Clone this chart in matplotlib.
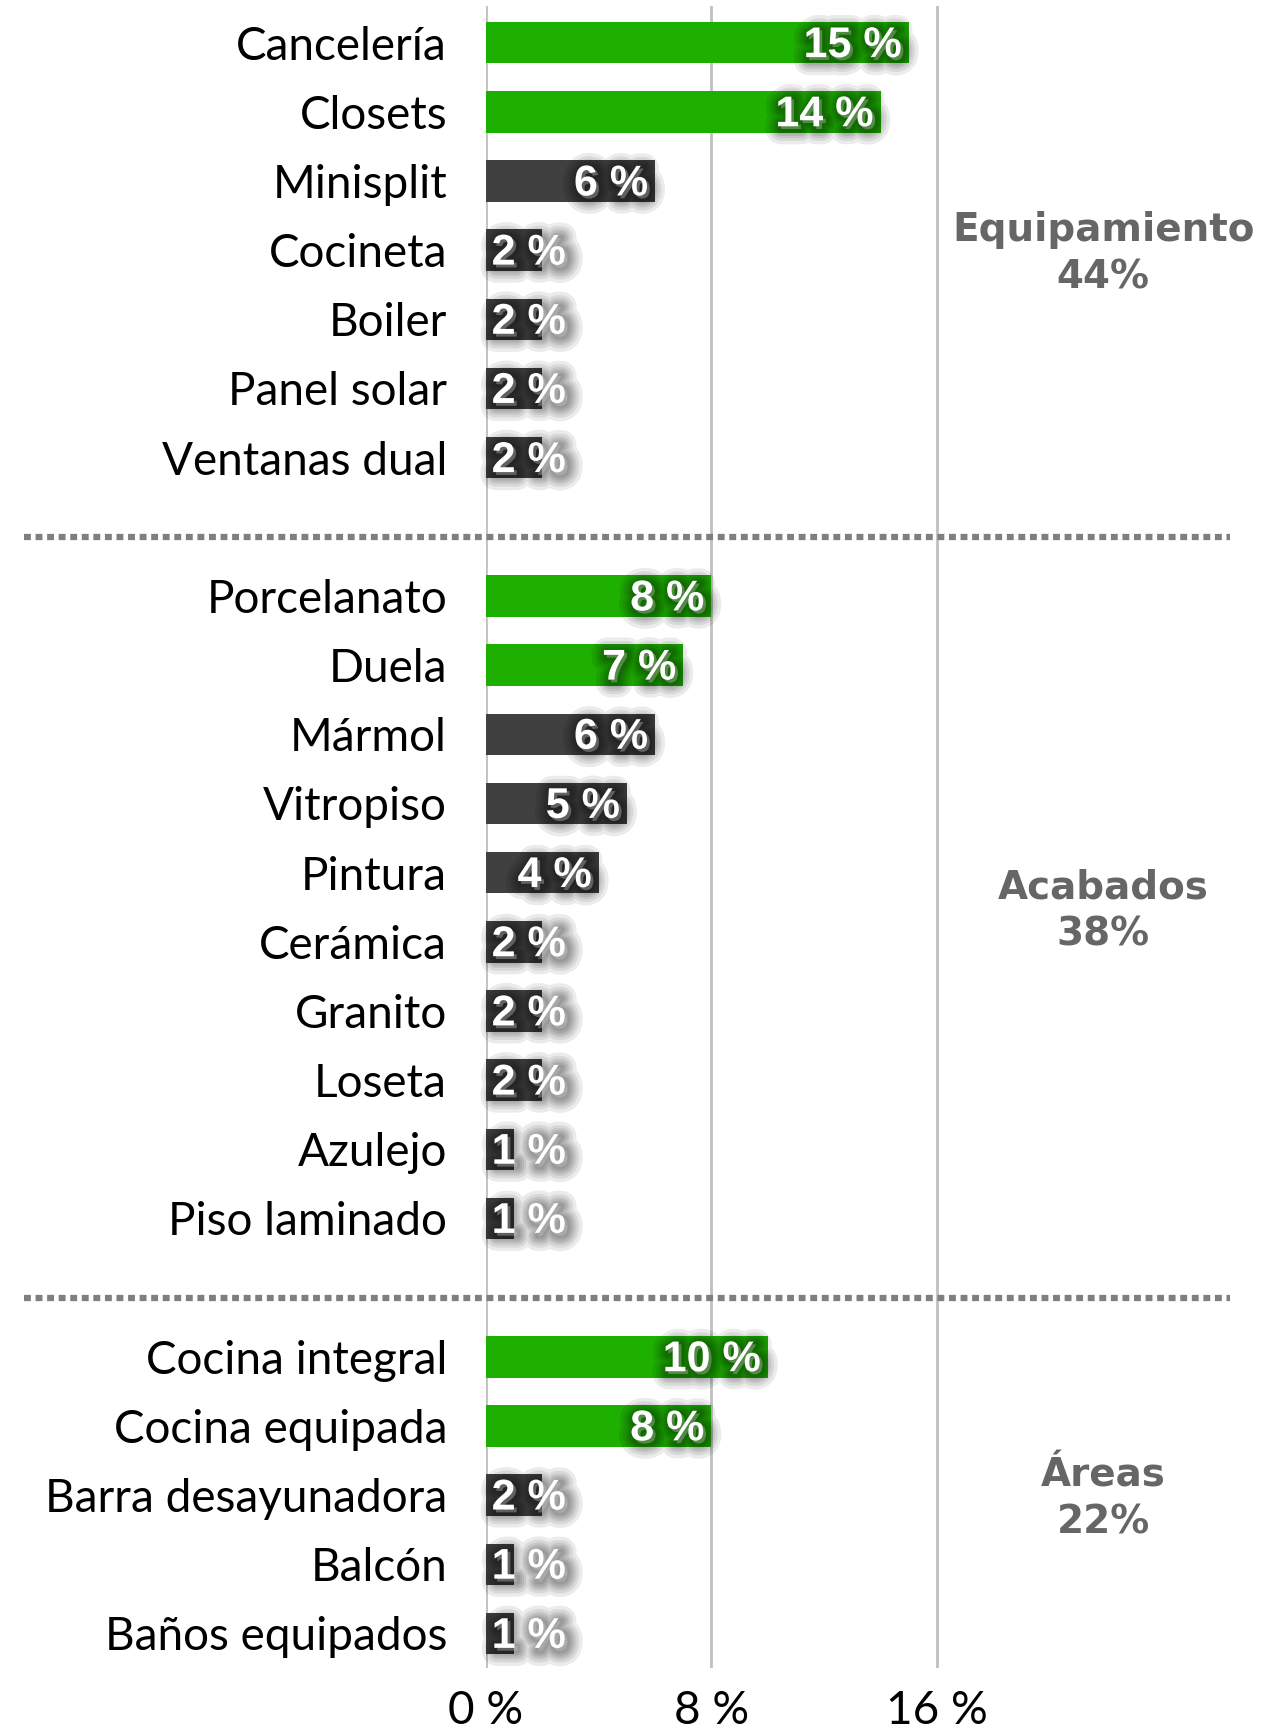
import numpy as np
import matplotlib
matplotlib.use("Agg")
import matplotlib.pyplot as plt
import matplotlib.patheffects as pe

# data
equip_labels = ["Cancelería", "Closets", "Minisplit", "Cocineta", "Boiler", "Panel solar", "Ventanas dual"]
equip_values = [15, 14, 6, 2, 2, 2, 2]
acab_labels = ["Porcelanato", "Duela", "Mármol", "Vitropiso", "Pintura", "Cerámica",
               "Granito", "Loseta", "Azulejo", "Piso laminado"]
acab_values = [8, 7, 6, 5, 4, 2, 2, 2, 1, 1]
areas_labels = ["Cocina integral", "Cocina equipada", "Barra desayunadora", "Balcón", "Baños equipados"]
areas_values = [10, 8, 2, 1, 1]
group_names = ["Equipamiento\n44%", "Acabados\n38%", "Áreas\n22%"]
x_ticks = [0, 8, 16]
x_tick_labels = ["0 %", "8 %", "16 %"]

GREEN = "#1eb000"
DARK = "#404040"
GRAY_TXT = "#666666"

groups = [(equip_labels, equip_values), (acab_labels, acab_values), (areas_labels, areas_values)]

fig = plt.figure(figsize=(12.61, 17.30), dpi=100)
ax = fig.add_axes([486 / 1261, 1 - 1668 / 1730, 1 - 486 / 1261, (1668 - 6) / 1730])

# fake blurred drop shadow: stacked soft strokes
shadow = [pe.Stroke(linewidth=w, foreground="black", alpha=0.08, offset=(2, -2))
          for w in (22, 17, 13, 10, 7, 4)] + [pe.Normal()]

ypos_all, lab_all = [], []
group_centers, separators = [], []
row = 0
for gi, (labs, vals) in enumerate(groups):
    ys = np.arange(row, row + len(labs))
    # top two of each group are green
    cols = [GREEN if i < 2 else DARK for i in range(len(vals))]
    ax.barh(ys, vals, height=0.6, color=cols, zorder=3)
    for y, v in zip(ys, vals):
        txt = f"{v} %"
        if v >= 3:
            ax.text(v - 0.25, y + 0.05, txt, ha="right", va="center", color="white",
                    fontsize=31, fontweight="bold", family="Liberation Sans",
                    zorder=5, path_effects=shadow)
        else:
            ax.text(0.2, y + 0.05, txt, ha="left", va="center", color="white",
                    fontsize=31, fontweight="bold", family="Liberation Sans",
                    zorder=5, path_effects=shadow)
    ypos_all.extend(ys)
    lab_all.extend(labs)
    group_centers.append(ys.mean())
    row += len(labs)
    if gi < len(groups) - 1:
        separators.append(row + 0.15)
        row += 1

for s in separators:
    ax.plot([-16.4, 26.4], [s, s], color="#7f7f7f", linewidth=4.5,
            linestyle=(0, (1.1, 0.75)), dash_capstyle="butt", clip_on=False, zorder=2)

for gname, gc in zip(group_names, group_centers):
    ax.text(21.9, gc + 0.05, gname, ha="center", va="center", color=GRAY_TXT,
            fontsize=28, fontweight="bold", family="DejaVu Sans", linespacing=1.3)

ax.set_xlim(0, 27.5)
ax.set_ylim(row - 0.5, -0.53)
ax.set_yticks(ypos_all)
ax.set_yticklabels(lab_all, fontsize=33, family="Lato")
ax.set_xticks(x_ticks)
ax.set_xticklabels(x_tick_labels, fontsize=33, family="Lato")
ax.tick_params(axis="both", length=0)
ax.tick_params(axis="y", pad=28)
ax.tick_params(axis="x", pad=16)
for sp in ax.spines.values():
    sp.set_visible(False)
for xt in x_ticks:
    ax.axvline(xt, color="#c0c0c0", linewidth=2, zorder=1)

fig.savefig("out.png", dpi=100)
